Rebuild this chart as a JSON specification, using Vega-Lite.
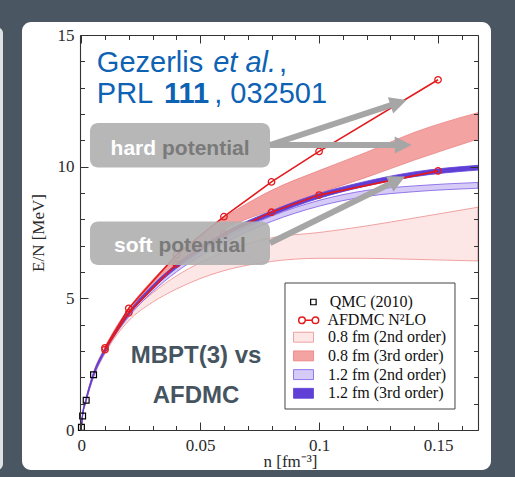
{
  "$schema": "https://vega.github.io/schema/vega-lite/v6.json",
  "width": 398,
  "height": 395,
  "autosize": "none",
  "padding": {"left": 80, "top": 35, "right": 37, "bottom": 47},
  "background": "#4a5762",
  "config": {
    "view": {"stroke": null},
    "axis": {
      "grid": false,
      "domainColor": "#333333", "domainWidth": 1.1,
      "tickColor": "#333333", "tickWidth": 1,
      "labelFont": "Liberation Serif", "labelFontSize": 17, "labelColor": "#2a2a2a",
      "titleFont": "Liberation Serif", "titleFontSize": 17, "titleFontWeight": "normal", "titleColor": "#2a2a2a",
      "labelOverlap": false, "labelFlush": false
    },
    "legend": {
      "title": null, "orient": "none", "padding": 0, "zindex": 2,
      "labelFont": "Liberation Serif", "labelFontSize": 16, "labelColor": "#111111", "labelLimit": 300
    }
  },
  "datasets": {
    "panel": [{"n0": -0.02488, "n1": 0.17226, "e0": -1.519, "e1": 15.494}],
    "strip": [{"n0": -0.045, "n1": -0.03287, "e0": -1.519, "e1": 15.30}],
    "legendbox": [{"n0": 0.08567, "n1": 0.15713, "e0": 0.797, "e1": 5.582}],
    "bands": [
      {"series": "0.8 fm (2nd order)", "n": 0, "lo": 0, "hi": 0},
      {"series": "0.8 fm (2nd order)", "n": 0.0005, "lo": 0.47, "hi": 0.53},
      {"series": "0.8 fm (2nd order)", "n": 0.002, "lo": 1.05, "hi": 1.13},
      {"series": "0.8 fm (2nd order)", "n": 0.005, "lo": 1.95, "hi": 2.05},
      {"series": "0.8 fm (2nd order)", "n": 0.01, "lo": 2.9, "hi": 3.0},
      {"series": "0.8 fm (2nd order)", "n": 0.02, "lo": 4.15, "hi": 4.35},
      {"series": "0.8 fm (2nd order)", "n": 0.03, "lo": 4.85, "hi": 5.2},
      {"series": "0.8 fm (2nd order)", "n": 0.04, "lo": 5.35, "hi": 5.85},
      {"series": "0.8 fm (2nd order)", "n": 0.05, "lo": 5.75, "hi": 6.35},
      {"series": "0.8 fm (2nd order)", "n": 0.06, "lo": 6.05, "hi": 6.75},
      {"series": "0.8 fm (2nd order)", "n": 0.08, "lo": 6.4, "hi": 7.3},
      {"series": "0.8 fm (2nd order)", "n": 0.1, "lo": 6.52, "hi": 7.5},
      {"series": "0.8 fm (2nd order)", "n": 0.12, "lo": 6.52, "hi": 7.75},
      {"series": "0.8 fm (2nd order)", "n": 0.14, "lo": 6.48, "hi": 8.05},
      {"series": "0.8 fm (2nd order)", "n": 0.1668, "lo": 6.42, "hi": 8.46},
      {"series": "0.8 fm (3rd order)", "n": 0, "lo": 0, "hi": 0},
      {"series": "0.8 fm (3rd order)", "n": 0.0005, "lo": 0.48, "hi": 0.55},
      {"series": "0.8 fm (3rd order)", "n": 0.002, "lo": 1.1, "hi": 1.18},
      {"series": "0.8 fm (3rd order)", "n": 0.005, "lo": 2.05, "hi": 2.15},
      {"series": "0.8 fm (3rd order)", "n": 0.01, "lo": 3.05, "hi": 3.15},
      {"series": "0.8 fm (3rd order)", "n": 0.02, "lo": 4.45, "hi": 4.62},
      {"series": "0.8 fm (3rd order)", "n": 0.03, "lo": 5.45, "hi": 5.7},
      {"series": "0.8 fm (3rd order)", "n": 0.04, "lo": 6.3, "hi": 6.6},
      {"series": "0.8 fm (3rd order)", "n": 0.05, "lo": 6.95, "hi": 7.38},
      {"series": "0.8 fm (3rd order)", "n": 0.06, "lo": 7.6, "hi": 8.05},
      {"series": "0.8 fm (3rd order)", "n": 0.08, "lo": 8.35, "hi": 9.1},
      {"series": "0.8 fm (3rd order)", "n": 0.1, "lo": 9.0, "hi": 9.85},
      {"series": "0.8 fm (3rd order)", "n": 0.12, "lo": 9.6, "hi": 10.55},
      {"series": "0.8 fm (3rd order)", "n": 0.14, "lo": 10.25, "hi": 11.3},
      {"series": "0.8 fm (3rd order)", "n": 0.1668, "lo": 11.05, "hi": 12.05},
      {"series": "1.2 fm (2nd order)", "n": 0, "lo": 0, "hi": 0},
      {"series": "1.2 fm (2nd order)", "n": 0.0005, "lo": 0.47, "hi": 0.53},
      {"series": "1.2 fm (2nd order)", "n": 0.002, "lo": 1.07, "hi": 1.15},
      {"series": "1.2 fm (2nd order)", "n": 0.005, "lo": 1.98, "hi": 2.08},
      {"series": "1.2 fm (2nd order)", "n": 0.01, "lo": 2.95, "hi": 3.05},
      {"series": "1.2 fm (2nd order)", "n": 0.02, "lo": 4.3, "hi": 4.4},
      {"series": "1.2 fm (2nd order)", "n": 0.03, "lo": 5.25, "hi": 5.37},
      {"series": "1.2 fm (2nd order)", "n": 0.04, "lo": 6.0, "hi": 6.14},
      {"series": "1.2 fm (2nd order)", "n": 0.05, "lo": 6.6, "hi": 6.76},
      {"series": "1.2 fm (2nd order)", "n": 0.06, "lo": 7.1, "hi": 7.28},
      {"series": "1.2 fm (2nd order)", "n": 0.08, "lo": 7.92, "hi": 8.12},
      {"series": "1.2 fm (2nd order)", "n": 0.1, "lo": 8.5, "hi": 8.72},
      {"series": "1.2 fm (2nd order)", "n": 0.12, "lo": 8.87, "hi": 9.1},
      {"series": "1.2 fm (2nd order)", "n": 0.14, "lo": 9.05, "hi": 9.27},
      {"series": "1.2 fm (2nd order)", "n": 0.1668, "lo": 9.18, "hi": 9.4},
      {"series": "1.2 fm (3rd order)", "n": 0, "lo": 0, "hi": 0},
      {"series": "1.2 fm (3rd order)", "n": 0.0005, "lo": 0.47, "hi": 0.55},
      {"series": "1.2 fm (3rd order)", "n": 0.002, "lo": 1.08, "hi": 1.18},
      {"series": "1.2 fm (3rd order)", "n": 0.005, "lo": 2.0, "hi": 2.12},
      {"series": "1.2 fm (3rd order)", "n": 0.01, "lo": 2.98, "hi": 3.1},
      {"series": "1.2 fm (3rd order)", "n": 0.02, "lo": 4.36, "hi": 4.5},
      {"series": "1.2 fm (3rd order)", "n": 0.03, "lo": 5.36, "hi": 5.5},
      {"series": "1.2 fm (3rd order)", "n": 0.04, "lo": 6.15, "hi": 6.3},
      {"series": "1.2 fm (3rd order)", "n": 0.05, "lo": 6.8, "hi": 6.96},
      {"series": "1.2 fm (3rd order)", "n": 0.06, "lo": 7.35, "hi": 7.5},
      {"series": "1.2 fm (3rd order)", "n": 0.08, "lo": 8.15, "hi": 8.32},
      {"series": "1.2 fm (3rd order)", "n": 0.1, "lo": 8.8, "hi": 8.98},
      {"series": "1.2 fm (3rd order)", "n": 0.12, "lo": 9.27, "hi": 9.45},
      {"series": "1.2 fm (3rd order)", "n": 0.14, "lo": 9.62, "hi": 9.8},
      {"series": "1.2 fm (3rd order)", "n": 0.1668, "lo": 9.87, "hi": 10.05}
    ],
    "afdmc": [
      {"series": "AFDMC N²LO", "potential": "hard", "n": 0.01, "E": 3.12},
      {"series": "AFDMC N²LO", "potential": "hard", "n": 0.02, "E": 4.62},
      {"series": "AFDMC N²LO", "potential": "hard", "n": 0.04, "E": 6.65},
      {"series": "AFDMC N²LO", "potential": "hard", "n": 0.06, "E": 8.1},
      {"series": "AFDMC N²LO", "potential": "hard", "n": 0.08, "E": 9.42},
      {"series": "AFDMC N²LO", "potential": "hard", "n": 0.1, "E": 10.58},
      {"series": "AFDMC N²LO", "potential": "hard", "n": 0.15, "E": 13.3},
      {"series": "AFDMC N²LO", "potential": "soft", "n": 0.01, "E": 3.05},
      {"series": "AFDMC N²LO", "potential": "soft", "n": 0.02, "E": 4.45},
      {"series": "AFDMC N²LO", "potential": "soft", "n": 0.04, "E": 6.3},
      {"series": "AFDMC N²LO", "potential": "soft", "n": 0.06, "E": 7.45},
      {"series": "AFDMC N²LO", "potential": "soft", "n": 0.08, "E": 8.27},
      {"series": "AFDMC N²LO", "potential": "soft", "n": 0.1, "E": 8.92},
      {"series": "AFDMC N²LO", "potential": "soft", "n": 0.15, "E": 9.84}
    ],
    "qmc": [
      {"series": "QMC (2010)", "n": 0.0001, "E": 0.1},
      {"series": "QMC (2010)", "n": 0.0006, "E": 0.53},
      {"series": "QMC (2010)", "n": 0.0021, "E": 1.13},
      {"series": "QMC (2010)", "n": 0.0052, "E": 2.1}
    ],
    "boxes": [
      {"name": "hard", "n0": 0.0037, "n1": 0.07937, "e0": 9.968, "e1": 11.658},
      {"name": "soft", "n0": 0.0037, "n1": 0.07937, "e0": 6.266, "e1": 7.918}
    ],
    "arrows": [
      {"id": "a1", "n0": 0.07937, "e0": 10.823, "n1": 0.13283, "e1": 12.414, "nt": 0.13683, "et": 12.532},
      {"id": "a2", "n0": 0.07937, "e0": 10.823, "n1": 0.13473, "e1": 10.823, "nt": 0.13893, "et": 10.823},
      {"id": "a3", "n0": 0.07937, "e0": 7.101, "n1": 0.13233, "e1": 9.46, "nt": 0.13611, "et": 9.627}
    ]
  },
  "resolve": {"axis": {"x": "independent", "y": "independent"}},
  "layer": [
    {
      "data": {"name": "panel"},
      "mark": {"type": "rect", "fill": "#ffffff", "cornerRadius": 9},
      "encoding": {
        "x": {"field": "n0", "type": "quantitative", "scale": {"domain": [-0.0005, 0.1668], "nice": false, "zero": false}, "axis": null},
        "x2": {"field": "n1"},
        "y": {"field": "e0", "type": "quantitative", "scale": {"domain": [0, 15], "nice": false, "zero": false}, "axis": null},
        "y2": {"field": "e1"}
      }
    },
    {
      "data": {"name": "strip"},
      "mark": {"type": "rect", "fill": "#dfe2e5", "cornerRadius": 6},
      "encoding": {
        "x": {"field": "n0", "type": "quantitative", "scale": {"domain": [-0.0005, 0.1668], "nice": false, "zero": false}, "axis": null},
        "x2": {"field": "n1"},
        "y": {"field": "e0", "type": "quantitative", "scale": {"domain": [0, 15], "nice": false, "zero": false}, "axis": null},
        "y2": {"field": "e1"}
      }
    },
    {
      "data": {"name": "bands"},
      "mark": {"type": "area", "interpolate": "monotone", "opacity": 1, "strokeWidth": 0.8},
      "encoding": {
        "x": {"field": "n", "type": "quantitative", "scale": {"domain": [-0.0005, 0.1668], "nice": false, "zero": false},
          "axis": {"orient": "bottom", "zindex": 2, "values": [0, 0.05, 0.1, 0.15], "format": "~g", "tickSize": -8, "labelPadding": 15, "title": "n [fm⁻³]", "titlePadding": 0, "titleX": 210}},
        "y": {"field": "lo", "type": "quantitative", "stack": null, "scale": {"domain": [0, 15], "nice": false, "zero": false},
          "axis": {"orient": "left", "zindex": 2, "values": [0, 5, 10, 15], "tickSize": -8, "labelPadding": 14, "title": "E/N [MeV]", "titlePadding": 10}},
        "y2": {"field": "hi"},
        "fill": {
          "field": "series", "type": "nominal",
          "scale": {"domain": ["0.8 fm (2nd order)", "0.8 fm (3rd order)", "1.2 fm (2nd order)", "1.2 fm (3rd order)"], "range": ["#fde6e6", "#f4a3a3", "#d6cbf6", "#5f3fd6"]},
          "legend": {"legendX": 215.5, "legendY": 294.2, "symbolType": "M-1.43,-0.71H1.43V0.71H-1.43Z", "symbolSize": 196, "symbolStrokeWidth": 0.8, "symbolOpacity": 1, "rowPadding": 2.7, "labelOffset": 16.5}
        },
        "stroke": {
          "field": "series", "type": "nominal",
          "scale": {"domain": ["0.8 fm (2nd order)", "0.8 fm (3rd order)", "1.2 fm (2nd order)", "1.2 fm (3rd order)"], "range": ["#ee8d8d", "#ea8080", "#7c5ce6", "#5f3fd6"]},
          "legend": {"legendX": 215.5, "legendY": 294.2, "symbolType": "M-1.43,-0.71H1.43V0.71H-1.43Z", "symbolSize": 196, "symbolStrokeWidth": 0.8, "symbolOpacity": 1, "rowPadding": 2.7, "labelOffset": 16.5}
        }
      }
    },
    {
      "data": {"name": "legendbox"},
      "mark": {"type": "rect", "fill": "#ffffff", "stroke": "#444444", "strokeWidth": 1},
      "encoding": {
        "x": {"field": "n0", "type": "quantitative", "scale": {"domain": [-0.0005, 0.1668], "nice": false, "zero": false}, "axis": null},
        "x2": {"field": "n1"},
        "y": {"field": "e0", "type": "quantitative", "scale": {"domain": [0, 15], "nice": false, "zero": false}, "axis": null},
        "y2": {"field": "e1"}
      }
    },
    {
      "data": {"name": "afdmc"},
      "mark": {"type": "line", "strokeWidth": 1.6},
      "encoding": {
        "x": {"field": "n", "type": "quantitative", "scale": {"domain": [-0.0005, 0.1668], "nice": false, "zero": false},
          "axis": {"orient": "bottom", "zindex": 2, "values": [0.01, 0.02, 0.03, 0.04, 0.06, 0.07, 0.08, 0.09, 0.11, 0.12, 0.13, 0.14, 0.16], "labels": false, "domain": false, "tickSize": -4.5, "title": null}},
        "y": {"field": "E", "type": "quantitative", "scale": {"domain": [0, 15], "nice": false, "zero": false},
          "axis": {"orient": "left", "zindex": 2, "values": [1, 2, 3, 4, 6, 7, 8, 9, 11, 12, 13, 14], "labels": false, "domain": false, "tickSize": -4.5, "title": null}},
        "detail": {"field": "potential"},
        "color": {
          "field": "series", "type": "nominal",
          "scale": {"domain": ["AFDMC N²LO"], "range": ["#e41a1c"]},
          "legend": {"legendX": 220.7, "legendY": 277.3, "symbolType": "M-0.49,0H0.49M-1.43,0A0.47,0.47,0,1,0,-0.49,0A0.47,0.47,0,1,0,-1.43,0ZM0.49,0A0.47,0.47,0,1,0,1.43,0A0.47,0.47,0,1,0,0.49,0Z", "symbolSize": 196, "symbolStrokeWidth": 1.5, "symbolFillColor": "transparent", "labelOffset": 10.7}
        }
      }
    },
    {
      "data": {"name": "afdmc"},
      "mark": {"type": "point", "shape": "circle", "filled": false, "color": "#e41a1c", "size": 42, "strokeWidth": 1.3, "opacity": 1},
      "encoding": {
        "x": {"field": "n", "type": "quantitative", "scale": {"domain": [-0.0005, 0.1668], "nice": false, "zero": false},
          "axis": {"orient": "top", "zindex": 2, "values": [0, 0.05, 0.1, 0.15], "labels": false, "tickSize": -8, "title": null}},
        "y": {"field": "E", "type": "quantitative", "scale": {"domain": [0, 15], "nice": false, "zero": false},
          "axis": {"orient": "right", "zindex": 2, "values": [0, 5, 10, 15], "labels": false, "tickSize": -8, "title": null}}
      }
    },
    {
      "data": {"name": "qmc"},
      "mark": {"type": "point", "filled": false, "color": "#000000", "size": 34, "strokeWidth": 1.2, "opacity": 1},
      "encoding": {
        "x": {"field": "n", "type": "quantitative", "scale": {"domain": [-0.0005, 0.1668], "nice": false, "zero": false},
          "axis": {"orient": "top", "zindex": 2, "values": [0.01, 0.02, 0.03, 0.04, 0.06, 0.07, 0.08, 0.09, 0.11, 0.12, 0.13, 0.14, 0.16], "labels": false, "domain": false, "tickSize": -4.5, "title": null}},
        "y": {"field": "E", "type": "quantitative", "scale": {"domain": [0, 15], "nice": false, "zero": false},
          "axis": {"orient": "right", "zindex": 2, "values": [1, 2, 3, 4, 6, 7, 8, 9, 11, 12, 13, 14], "labels": false, "domain": false, "tickSize": -4.5, "title": null}},
        "shape": {
          "field": "series", "type": "nominal",
          "scale": {"domain": ["QMC (2010)"], "range": ["square"]},
          "legend": {"legendX": 225.4, "legendY": 259, "symbolSize": 30, "symbolStrokeWidth": 1.2, "symbolStrokeColor": "#000000", "symbolFillColor": "transparent", "symbolOpacity": 1, "labelOffset": 8.4}
        }
      }
    },
    {
      "data": {"values": [
        {"n": 0.00657, "E": 13.58, "t": "Gezerlis"},
        {"n": 0.0832, "E": 13.58, "t": ","},
        {"n": 0.00657, "E": 12.42, "t": "PRL"},
        {"n": 0.0559, "E": 12.42, "t": ", 032501"}
      ]},
      "mark": {"type": "text", "align": "left", "baseline": "alphabetic", "font": "Liberation Sans", "fontSize": 29, "color": "#0e62b4"},
      "encoding": {
        "x": {"field": "n", "type": "quantitative", "scale": {"domain": [-0.0005, 0.1668], "nice": false, "zero": false}, "axis": null},
        "y": {"field": "E", "type": "quantitative", "scale": {"domain": [0, 15], "nice": false, "zero": false}, "axis": null},
        "text": {"field": "t"}
      }
    },
    {
      "data": {"values": [{"n": 0.0555, "E": 13.58, "t": "et al."}]},
      "mark": {"type": "text", "align": "left", "baseline": "alphabetic", "font": "Liberation Sans", "fontSize": 29, "fontStyle": "italic", "color": "#0e62b4"},
      "encoding": {
        "x": {"field": "n", "type": "quantitative", "scale": {"domain": [-0.0005, 0.1668], "nice": false, "zero": false}, "axis": null},
        "y": {"field": "E", "type": "quantitative", "scale": {"domain": [0, 15], "nice": false, "zero": false}, "axis": null},
        "text": {"field": "t"}
      }
    },
    {
      "data": {"values": [{"n": 0.03481, "E": 12.42, "t": "111"}]},
      "mark": {"type": "text", "align": "left", "baseline": "alphabetic", "font": "Liberation Sans", "fontSize": 29, "fontWeight": "bold", "color": "#0e62b4"},
      "encoding": {
        "x": {"field": "n", "type": "quantitative", "scale": {"domain": [-0.0005, 0.1668], "nice": false, "zero": false}, "axis": null},
        "y": {"field": "E", "type": "quantitative", "scale": {"domain": [0, 15], "nice": false, "zero": false}, "axis": null},
        "text": {"field": "t"}
      }
    },
    {
      "data": {"name": "boxes"},
      "mark": {"type": "rect", "fill": "#afafaf", "opacity": 0.9, "cornerRadius": 8},
      "encoding": {
        "x": {"field": "n0", "type": "quantitative", "scale": {"domain": [-0.0005, 0.1668], "nice": false, "zero": false}, "axis": null},
        "x2": {"field": "n1"},
        "y": {"field": "e0", "type": "quantitative", "scale": {"domain": [0, 15], "nice": false, "zero": false}, "axis": null},
        "y2": {"field": "e1"}
      }
    },
    {
      "data": {"values": [
        {"n": 0.01236, "E": 10.443, "t": "hard"},
        {"n": 0.01379, "E": 6.76, "t": "soft"}
      ]},
      "mark": {"type": "text", "align": "left", "baseline": "alphabetic", "font": "Liberation Sans", "fontSize": 21, "fontWeight": "bold", "color": "#ffffff"},
      "encoding": {
        "x": {"field": "n", "type": "quantitative", "scale": {"domain": [-0.0005, 0.1668], "nice": false, "zero": false}, "axis": null},
        "y": {"field": "E", "type": "quantitative", "scale": {"domain": [0, 15], "nice": false, "zero": false}, "axis": null},
        "text": {"field": "t"}
      }
    },
    {
      "data": {"values": [
        {"n": 0.03397, "E": 10.443, "t": "potential"},
        {"n": 0.03246, "E": 6.76, "t": "potential"}
      ]},
      "mark": {"type": "text", "align": "left", "baseline": "alphabetic", "font": "Liberation Sans", "fontSize": 21, "fontWeight": "bold", "color": "#7a7a7a"},
      "encoding": {
        "x": {"field": "n", "type": "quantitative", "scale": {"domain": [-0.0005, 0.1668], "nice": false, "zero": false}, "axis": null},
        "y": {"field": "E", "type": "quantitative", "scale": {"domain": [0, 15], "nice": false, "zero": false}, "axis": null},
        "text": {"field": "t"}
      }
    },
    {
      "data": {"name": "arrows"},
      "mark": {"type": "rule", "color": "#a6a6a6", "strokeWidth": 6, "strokeCap": "butt"},
      "encoding": {
        "x": {"field": "n0", "type": "quantitative", "scale": {"domain": [-0.0005, 0.1668], "nice": false, "zero": false}, "axis": null},
        "y": {"field": "e0", "type": "quantitative", "scale": {"domain": [0, 15], "nice": false, "zero": false}, "axis": null},
        "x2": {"field": "n1"},
        "y2": {"field": "e1"}
      }
    },
    {
      "data": {"name": "arrows"},
      "transform": [{"filter": "datum.id === 'a1'"}],
      "mark": {"type": "point", "shape": "M0,0L-2,-1L-2,1Z", "size": 289, "filled": true, "color": "#a6a6a6", "opacity": 1, "angle": 341.78},
      "encoding": {
        "x": {"field": "nt", "type": "quantitative", "scale": {"domain": [-0.0005, 0.1668], "nice": false, "zero": false}, "axis": null},
        "y": {"field": "et", "type": "quantitative", "scale": {"domain": [0, 15], "nice": false, "zero": false}, "axis": null}
      }
    },
    {
      "data": {"name": "arrows"},
      "transform": [{"filter": "datum.id === 'a2'"}],
      "mark": {"type": "point", "shape": "M0,0L-2,-1L-2,1Z", "size": 289, "filled": true, "color": "#a6a6a6", "opacity": 1, "angle": 0},
      "encoding": {
        "x": {"field": "nt", "type": "quantitative", "scale": {"domain": [-0.0005, 0.1668], "nice": false, "zero": false}, "axis": null},
        "y": {"field": "et", "type": "quantitative", "scale": {"domain": [0, 15], "nice": false, "zero": false}, "axis": null}
      }
    },
    {
      "data": {"name": "arrows"},
      "transform": [{"filter": "datum.id === 'a3'"}],
      "mark": {"type": "point", "shape": "M0,0L-2,-1L-2,1Z", "size": 289, "filled": true, "color": "#a6a6a6", "opacity": 1, "angle": 333.78},
      "encoding": {
        "x": {"field": "nt", "type": "quantitative", "scale": {"domain": [-0.0005, 0.1668], "nice": false, "zero": false}, "axis": null},
        "y": {"field": "et", "type": "quantitative", "scale": {"domain": [0, 15], "nice": false, "zero": false}, "axis": null}
      }
    },
    {
      "data": {"values": [
        {"n": 0.04826, "E": 2.544, "t": "MBPT(3) vs"},
        {"n": 0.04826, "E": 1.037, "t": "AFDMC"}
      ]},
      "mark": {"type": "text", "align": "center", "baseline": "alphabetic", "font": "Liberation Sans", "fontSize": 24, "fontWeight": "bold", "color": "#46545f"},
      "encoding": {
        "x": {"field": "n", "type": "quantitative", "scale": {"domain": [-0.0005, 0.1668], "nice": false, "zero": false}, "axis": null},
        "y": {"field": "E", "type": "quantitative", "scale": {"domain": [0, 15], "nice": false, "zero": false}, "axis": null},
        "text": {"field": "t"}
      }
    }
  ]
}
